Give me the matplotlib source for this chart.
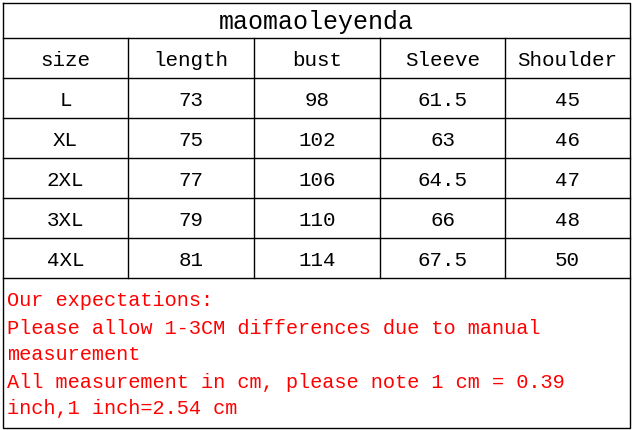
import matplotlib.pyplot as plt

title = "maomaoleyenda"
header = ["size", "length", "bust", "Sleeve", "Shoulder"]
sizes = ["L", "XL", "2XL", "3XL", "4XL"]
length = ["73", "75", "77", "79", "81"]
bust = ["98", "102", "106", "110", "114"]
sleeve = ["61.5", "63", "64.5", "66", "67.5"]
shoulder = ["45", "46", "47", "48", "50"]
notes = [
    "Our expectations:",
    "Please allow 1-3CM differences due to manual",
    "measurement",
    "All measurement in cm, please note 1 cm = 0.39",
    "inch,1 inch=2.54 cm",
]

col_x = [3, 128, 254, 380, 505, 630]
row_y = [3, 38, 78, 118, 158, 198, 238, 278]
bottom = 428
font = "Liberation Mono"

fig = plt.figure(figsize=(6.32, 4.30), dpi=100)
ax = fig.add_axes([0, 0, 1, 1])
ax.set_xlim(0, 632)
ax.set_ylim(430, 0)
ax.axis("off")

lw = 1.0
# outer border
ax.plot([col_x[0], col_x[-1], col_x[-1], col_x[0], col_x[0]],
        [row_y[0], row_y[0], bottom, bottom, row_y[0]], color="black", lw=lw)
for y in row_y[1:]:
    ax.plot([col_x[0], col_x[-1]], [y, y], color="black", lw=lw)
for x in col_x[1:-1]:
    ax.plot([x, x], [row_y[1], row_y[-1]], color="black", lw=lw)

ax.text((col_x[0] + col_x[-1]) / 2, (row_y[0] + row_y[1]) / 2 + 1, title,
        ha="center", va="center", fontsize=18, family=font)

rows = [header] + [list(r) for r in zip(sizes, length, bust, sleeve, shoulder)]
for i, row in enumerate(rows):
    yc = (row_y[i + 1] + row_y[i + 2]) / 2 + 2
    for j, val in enumerate(row):
        xc = (col_x[j] + col_x[j + 1]) / 2
        ax.text(xc, yc, val, ha="center", va="center", fontsize=15, family=font)

for k, line in enumerate(notes):
    ax.text(7, 301 + 27 * k, line, ha="left", va="center", fontsize=14.6,
            family=font, color="#ff0000")

fig.savefig("out.png", dpi=100)
